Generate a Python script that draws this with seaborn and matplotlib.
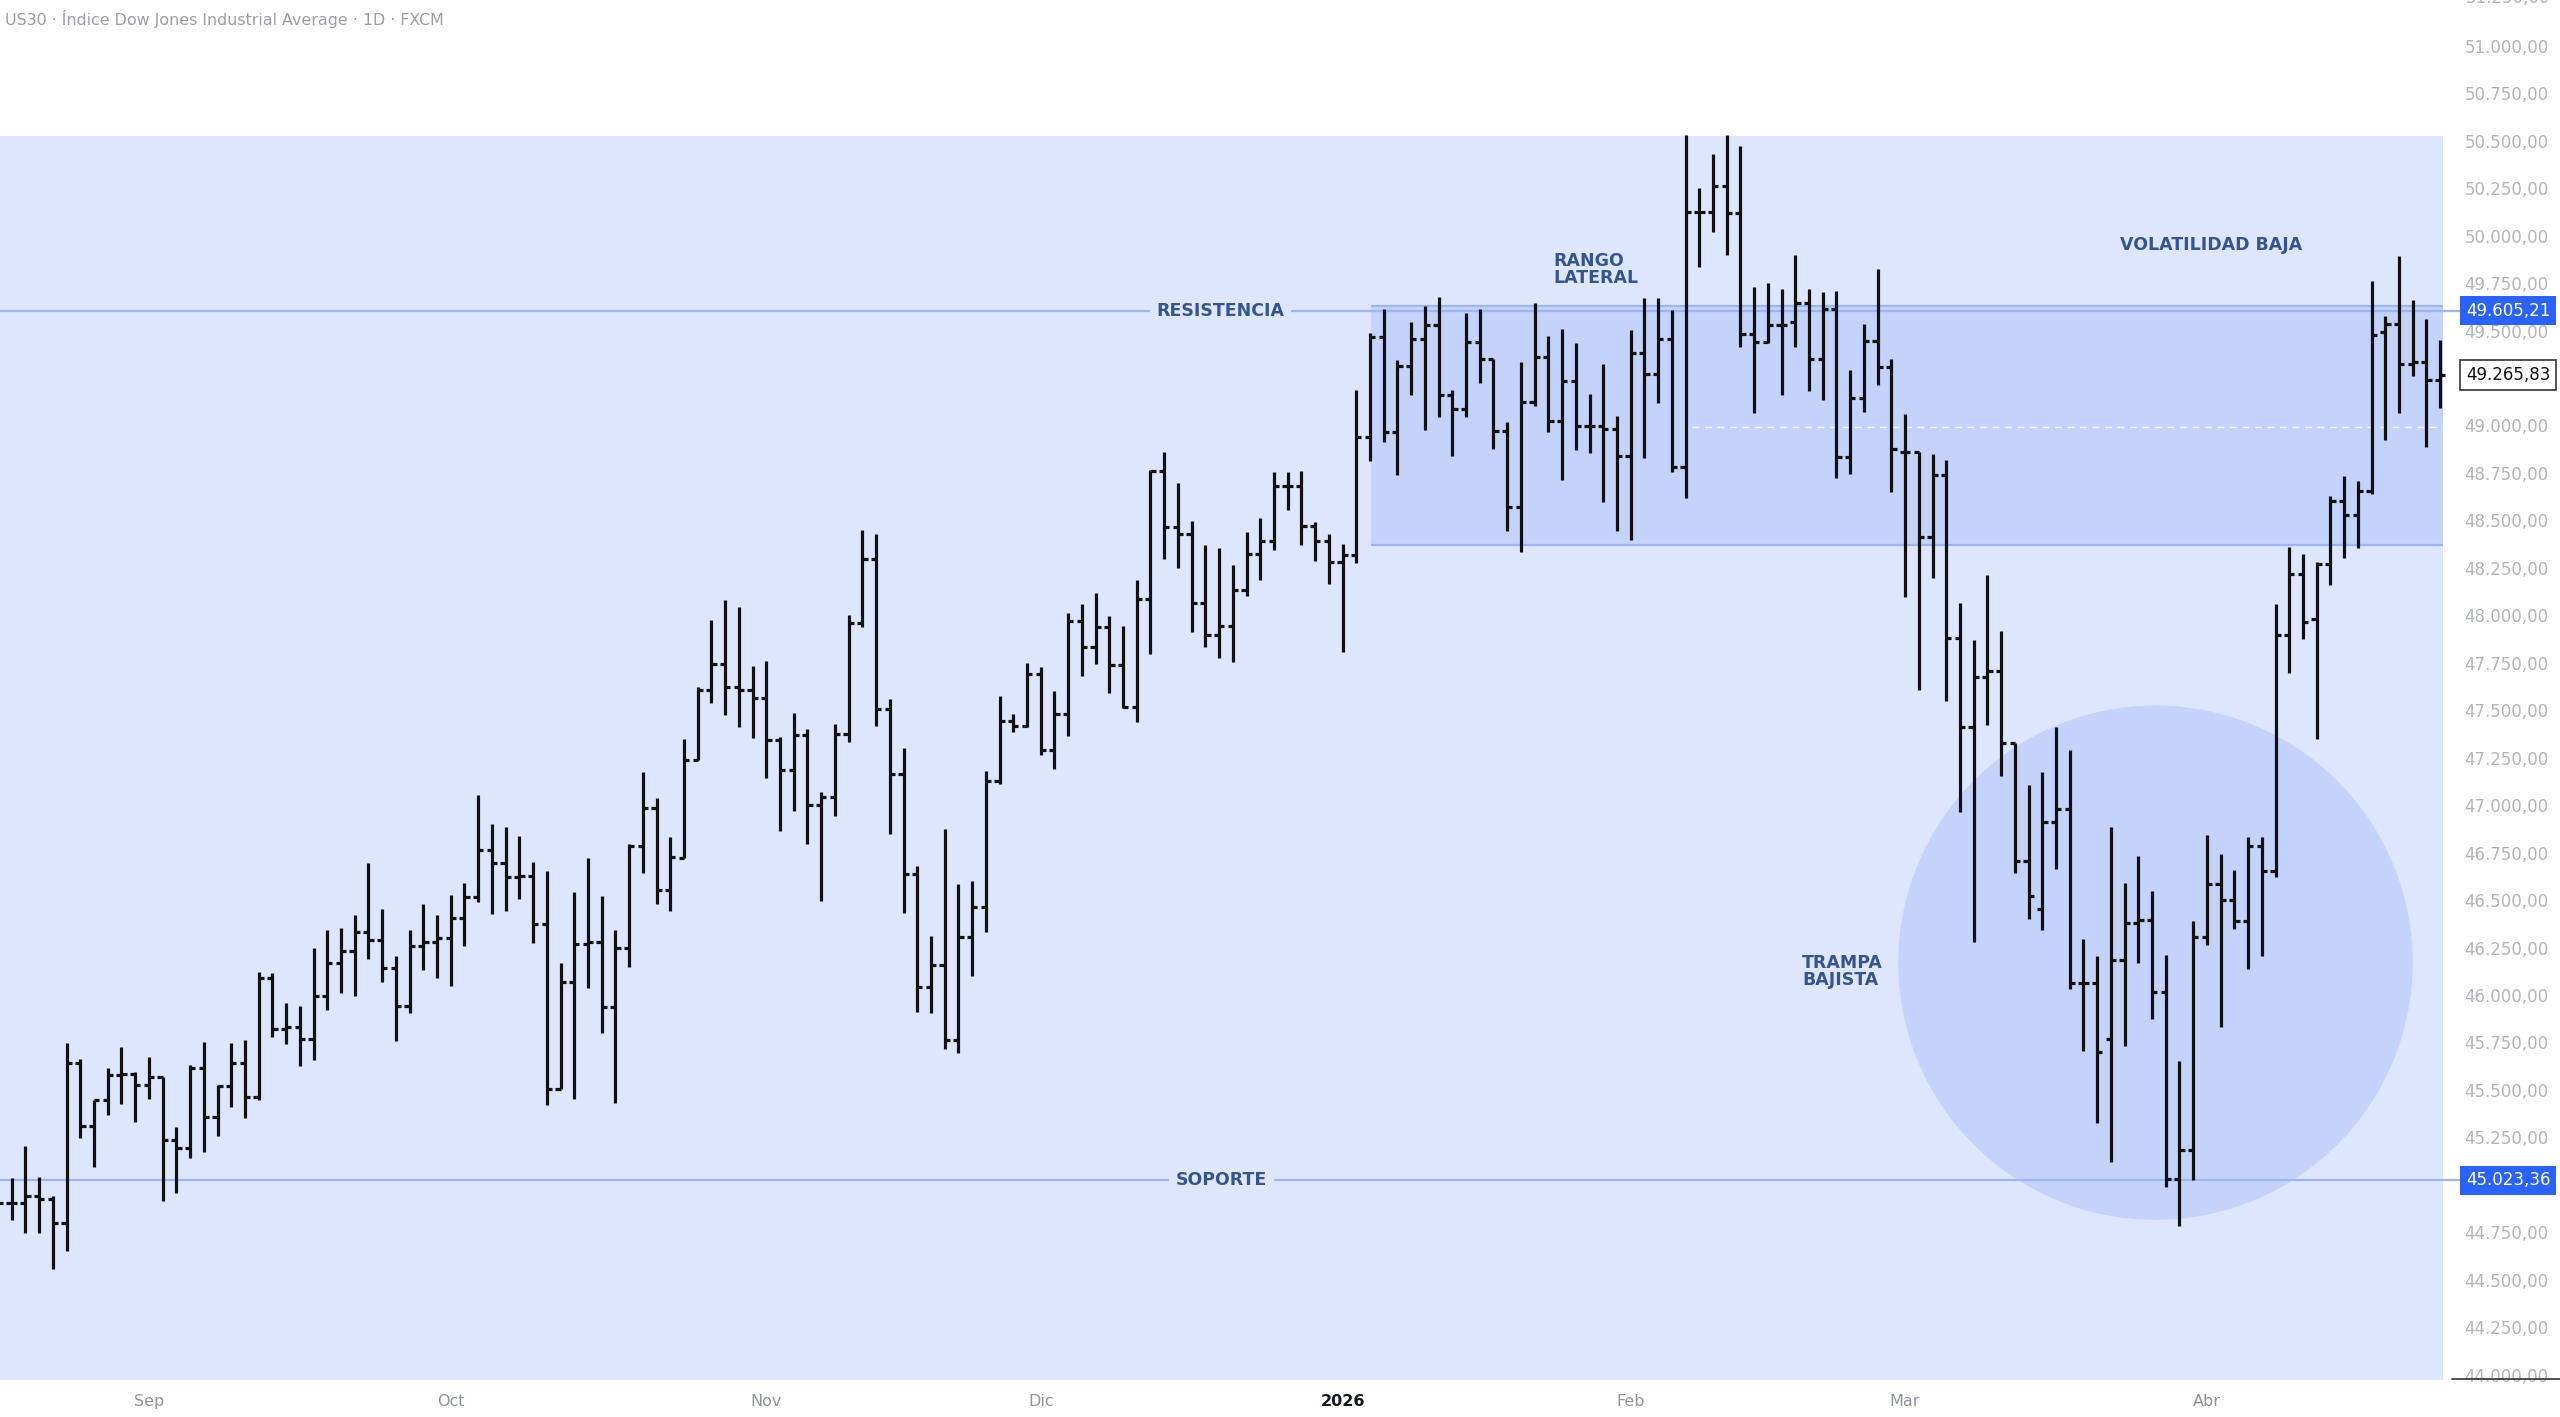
import numpy as np
import pandas as pd
import matplotlib
matplotlib.use("Agg")
import matplotlib.pyplot as plt
import matplotlib.transforms as mtransforms
from matplotlib.patches import Rectangle, Ellipse
from matplotlib.lines import Line2D
from matplotlib.ticker import FuncFormatter
import seaborn as sns

# daily OHLC bars, US30 (FXCM)
opens = [44950, 44903, 44903, 44942, 44924, 44798, 45640, 45310, 45447, 45579,
         45584, 45526, 45567, 45237, 45196, 45614, 45359, 45523, 45640, 45461,
         46088, 45819, 45833, 45770, 45995, 46167, 46234, 46334, 46290, 46141,
         45943, 46260, 46278, 46299, 46408, 46518, 46764, 46697, 46624, 46629,
         46374, 45504, 46071, 46267, 46281, 45939, 46246, 46786, 46987, 46554,
         46723, 47237, 47606, 47741, 47624, 47606, 47563, 47341, 47186, 47368,
         47001, 47045, 47374, 47962, 48299, 47505, 47166, 46636, 46043, 46158,
         45761, 46305, 46461, 47126, 47444, 47415, 47692, 47288, 47481, 47971,
         47832, 47936, 47736, 47515, 48087, 48758, 48463, 48426, 48064, 47894,
         47943, 48131, 48324, 48390, 48681, 48681, 48470, 48390, 48282, 48318,
         48940, 49467, 48963, 49311, 49457, 49527, 49160, 49089, 49439, 49352,
         48969, 48568, 49123, 49358, 49023, 49236, 48995, 48995, 48982, 48837,
         49382, 49271, 49455, 48783, 50125, 50125, 50260, 50120, 49480, 49441,
         49529, 49546, 49643, 49350, 49612, 48832, 49143, 49447, 49306, 48859,
         48859, 48414, 48739, 47879, 47409, 47675, 47705, 47328, 46708, 46452,
         46912, 46979, 46063, 46063, 45768, 46185, 46377, 46396, 46014, 45032,
         45185, 46304, 46583, 46498, 46389, 46784, 46654, 47898, 48219, 47980,
         48271, 48603, 48526, 48656, 49493, 49535, 49325, 49336, 49240]
highs = [45050, 45035, 45205, 45040, 44942, 45749, 45665, 45447, 45618, 45728,
         45595, 45675, 45567, 45303, 45632, 45754, 45526, 45749, 45763, 46123,
         46118, 45956, 45944, 46246, 46343, 46352, 46422, 46697, 46452, 46206,
         46343, 46480, 46422, 46527, 46589, 47054, 46901, 46884, 46838, 46703,
         46654, 46167, 46540, 46720, 46522, 46343, 46796, 47172, 47036, 46834,
         47347, 47624, 47976, 48079, 48043, 47735, 47757, 47358, 47485, 47402,
         47071, 47428, 47999, 48450, 48426, 47559, 47301, 46682, 46313, 46874,
         46582, 46598, 47182, 47573, 47481, 47747, 47727, 47599, 48013, 48058,
         48120, 47996, 47943, 48186, 48767, 48862, 48696, 48497, 48368, 48357,
         48264, 48441, 48512, 48756, 48756, 48758, 48490, 48426, 48375, 49189,
         49489, 49612, 49343, 49546, 49627, 49678, 49189, 49593, 49612, 49352,
         49016, 49333, 49646, 49471, 49508, 49433, 49164, 49324, 49051, 49503,
         49670, 49670, 49608, 50530, 50250, 50430, 50530, 50470, 49731, 49752,
         49717, 49898, 49717, 49701, 49710, 49292, 49533, 49824, 49348, 49058,
         48862, 48852, 48820, 48067, 47871, 48212, 47919, 47328, 47105, 47172,
         47414, 47288, 46294, 46205, 46887, 46590, 46731, 46549, 46213, 45653,
         46389, 46841, 46743, 46658, 46830, 46830, 48060, 48359, 48321, 48281,
         48631, 48733, 48708, 49761, 49574, 49890, 49660, 49560, 49451]
lows = [44800, 44815, 44745, 44745, 44555, 44654, 45249, 45096, 45368, 45424,
        45333, 45451, 44917, 44959, 45140, 45172, 45258, 45412, 45354, 45447,
        45781, 45740, 45628, 45658, 45921, 46009, 45995, 46188, 46071, 45760,
        45907, 46129, 46088, 46045, 46259, 46492, 46427, 46440, 46504, 46273,
        45421, 45504, 45451, 46036, 45799, 45430, 46146, 46641, 46478, 46443,
        46723, 47237, 47539, 47475, 47412, 47354, 47144, 46864, 46971, 46793,
        46495, 46944, 47331, 47936, 47418, 46850, 46431, 45910, 45906, 45715,
        45695, 46098, 46334, 47110, 47384, 47410, 47262, 47193, 47362, 47681,
        47743, 47592, 47510, 47439, 47798, 48297, 48248, 47914, 47832, 47776,
        47754, 48102, 48186, 48346, 48557, 48370, 48286, 48164, 47809, 48276,
        48812, 48912, 48741, 49160, 48978, 49047, 48841, 49047, 49226, 48878,
        48442, 48333, 49100, 48963, 48713, 48869, 48856, 48596, 48446, 48399,
        48830, 49120, 48753, 48620, 49833, 50020, 49898, 49415, 49067, 49433,
        49160, 49415, 49183, 49134, 48721, 48744, 49073, 49213, 48648, 48098,
        47607, 48194, 47549, 46966, 46278, 47420, 47154, 46640, 46399, 46340,
        46662, 46031, 45703, 45324, 45121, 45729, 46167, 45875, 44986, 44785,
        45025, 46263, 45829, 46350, 46138, 46208, 46624, 47697, 47875, 47348,
        48162, 48302, 48354, 48637, 48922, 49066, 49263, 48884, 49091]
closes = [44903, 44903, 44942, 44924, 44798, 45640, 45310, 45447, 45579, 45584,
          45526, 45567, 45237, 45196, 45614, 45359, 45523, 45640, 45461, 46088,
          45819, 45833, 45770, 45995, 46171, 46234, 46334, 46290, 46141, 45943,
          46260, 46278, 46299, 46408, 46518, 46764, 46697, 46624, 46629, 46374,
          45504, 46071, 46267, 46281, 45939, 46246, 46786, 46987, 46554, 46726,
          47237, 47606, 47741, 47624, 47606, 47563, 47341, 47186, 47368, 47001,
          47045, 47374, 47962, 48299, 47505, 47166, 46636, 46043, 46158, 45761,
          46305, 46461, 47126, 47442, 47415, 47692, 47288, 47481, 47971, 47832,
          47936, 47736, 47515, 48087, 48758, 48463, 48426, 48064, 47894, 47943,
          48131, 48324, 48390, 48681, 48681, 48470, 48390, 48282, 48319, 48940,
          49467, 48963, 49311, 49457, 49527, 49160, 49089, 49439, 49352, 48969,
          48568, 49123, 49358, 49023, 49236, 48995, 48995, 48982, 48837, 49382,
          49271, 49455, 48783, 50125, 50125, 50260, 50120, 49480, 49441, 49529,
          49529, 49643, 49350, 49612, 48832, 49143, 49447, 49306, 48876, 48859,
          48414, 48739, 47879, 47409, 47675, 47705, 47328, 46708, 46522, 46912,
          46979, 46063, 46063, 45700, 46185, 46377, 46396, 46014, 45032, 45185,
          46304, 46583, 46498, 46389, 46784, 46654, 47898, 48219, 47965, 48271,
          48603, 48526, 48656, 49478, 49535, 49325, 49336, 49240, 49265.83]

month_labels = ["Sep", "Oct", "Nov", "Dic", "2026", "Feb", "Mar", "Abr"]
month_bars = [11, 33, 56, 76, 98, 119, 139, 161]

# price scale levels (45.000 sits under the support label)
price_ticks = [44000, 44250, 44500, 44750, 45250, 45500, 45750, 46000, 46250,
               46500, 46750, 47000, 47250, 47500, 47750, 48000, 48250, 48500,
               48750, 49000, 49250, 49500, 49750, 50000, 50250, 50500, 50750, 51000]

resistance = 49605.21
support = 45023.36
last_price = 49265.83
range_top, range_bottom = 49630, 48370
mid_dash = 48990

df = pd.DataFrame({"open": opens, "high": highs, "low": lows, "close": closes})
df["bar"] = np.arange(len(df))

sns.set_theme(style="white")
plt.rcParams["font.family"] = ["DejaVu Sans"]

BG = "#dde6fc"
ZONE = "#c5d3fa"
LINE = "#9db5f2"
TXT = "#36548e"
INK = "#111111"

fig = plt.figure(figsize=(25.6, 14.17), dpi=100)
ax = fig.add_axes([0, 37 / 1417, 2455 / 2560, 1 - 37 / 1417])
ax.set_facecolor("white")
ax.set_xlim(0.147, 179.08)
ax.set_ylim(43972, 51241)

# shaded study area, lateral range box, trap circle
ax.add_patch(Rectangle((-1, 43900), 179.2, 50527 - 43900, fc=BG, ec="none", zorder=0))
ax.add_patch(Rectangle((100.1, range_bottom), 178.2 - 100.1, range_top - range_bottom,
                       fc=ZONE, ec="none", zorder=1))
ax.hlines(range_bottom, 100.1, 178.2, color=LINE, lw=1.6, zorder=1.5)
ax.hlines(range_top, 100.1, 178.2, color=LINE, lw=1.6, zorder=1.5)
ax.add_patch(Ellipse((157.25, 46170), 37.5, 2709, fc=ZONE, ec="none", zorder=1))
ax.hlines(mid_dash, 123.5, 178.2, color="white", lw=1.0, linestyles=(0, (5, 4)),
          alpha=0.8, zorder=1.6)

# support / resistance
ax.hlines([resistance, support], -1, 179.5, color=LINE, lw=1.6, zorder=2, clip_on=False)

# OHLC bars
tick = 0.38
ax.vlines(df["bar"], df["low"], df["high"], color=INK, lw=2.3, zorder=3,
          capstyle="butt")
ax.hlines(df["open"], df["bar"] - tick, df["bar"], color=INK, lw=2.3, zorder=3)
ax.hlines(df["close"], df["bar"], df["bar"] + tick, color=INK, lw=2.3, zorder=3)

# annotations
lab = dict(color=TXT, fontsize=12.5, fontweight="bold", zorder=5)
ax.text(89.1, resistance, "RESISTENCIA", ha="center", va="center",
        bbox=dict(boxstyle="square,pad=0.4", fc=BG, ec="none"), **lab)
ax.text(89.2, support, "SOPORTE", ha="center", va="center",
        bbox=dict(boxstyle="square,pad=0.4", fc=BG, ec="none"), **lab)
ax.text(113.4, 49822, "RANGO\nLATERAL", ha="left", va="center", linespacing=0.95, **lab)
ax.text(161.3, 49951, "VOLATILIDAD BAJA", ha="center", va="center", **lab)
ax.text(131.5, 46124, "TRAMPA\nBAJISTA", ha="left", va="center", linespacing=0.95, **lab)

# price scale on the right
def price_fmt(v, pos=None):
    s = f"{v:,.2f}"
    return s.replace(",", "X").replace(".", ",").replace("X", ".")

ax.yaxis.tick_right()
ax.set_yticks(price_ticks)
ax.yaxis.set_major_formatter(FuncFormatter(price_fmt))
ax.tick_params(axis="y", length=0, pad=7, labelsize=12, labelcolor="#b2b5be")
trans = mtransforms.blended_transform_factory(ax.transAxes, ax.transData)
ax.text(1.0045, 51250, price_fmt(51250), transform=trans, ha="left", va="center",
        fontsize=12, color="#b2b5be", clip_on=False)
for val, fc, tc, ec in [(resistance, "#2962ff", "white", "none"),
                        (support, "#2962ff", "white", "none"),
                        (last_price, "white", INK, "#333333")]:
    ax.text(1.0045, val, price_fmt(val), transform=trans, ha="left", va="center",
            fontsize=12, color=tc, zorder=6, clip_on=False,
            bbox=dict(boxstyle="square,pad=0.35", fc=fc, ec=ec, lw=1.2))

# time scale
ax.set_xticks(month_bars)
ax.set_xticklabels(month_labels)
ax.tick_params(axis="x", length=0, pad=10, labelsize=11.5, labelcolor="#8f939b")
for t in ax.get_xticklabels():
    if t.get_text() == "2026":
        t.set_color("#131722")
        t.set_fontweight("bold")
ax.set_xlabel("")
ax.set_ylabel("")
sns.despine(ax=ax, left=True, bottom=True, right=True, top=True)
fig.add_artist(Line2D([2452 / 2560, 1], [38 / 1417, 38 / 1417], color="#333333", lw=1.2))

fig.text(5 / 2560, 1 - 19 / 1417, "US30 · Índice Dow Jones Industrial Average · 1D · FXCM",
         ha="left", va="center", fontsize=11.4, color="#9b9ea6")

fig.savefig("out.png", dpi=100, facecolor="white")
